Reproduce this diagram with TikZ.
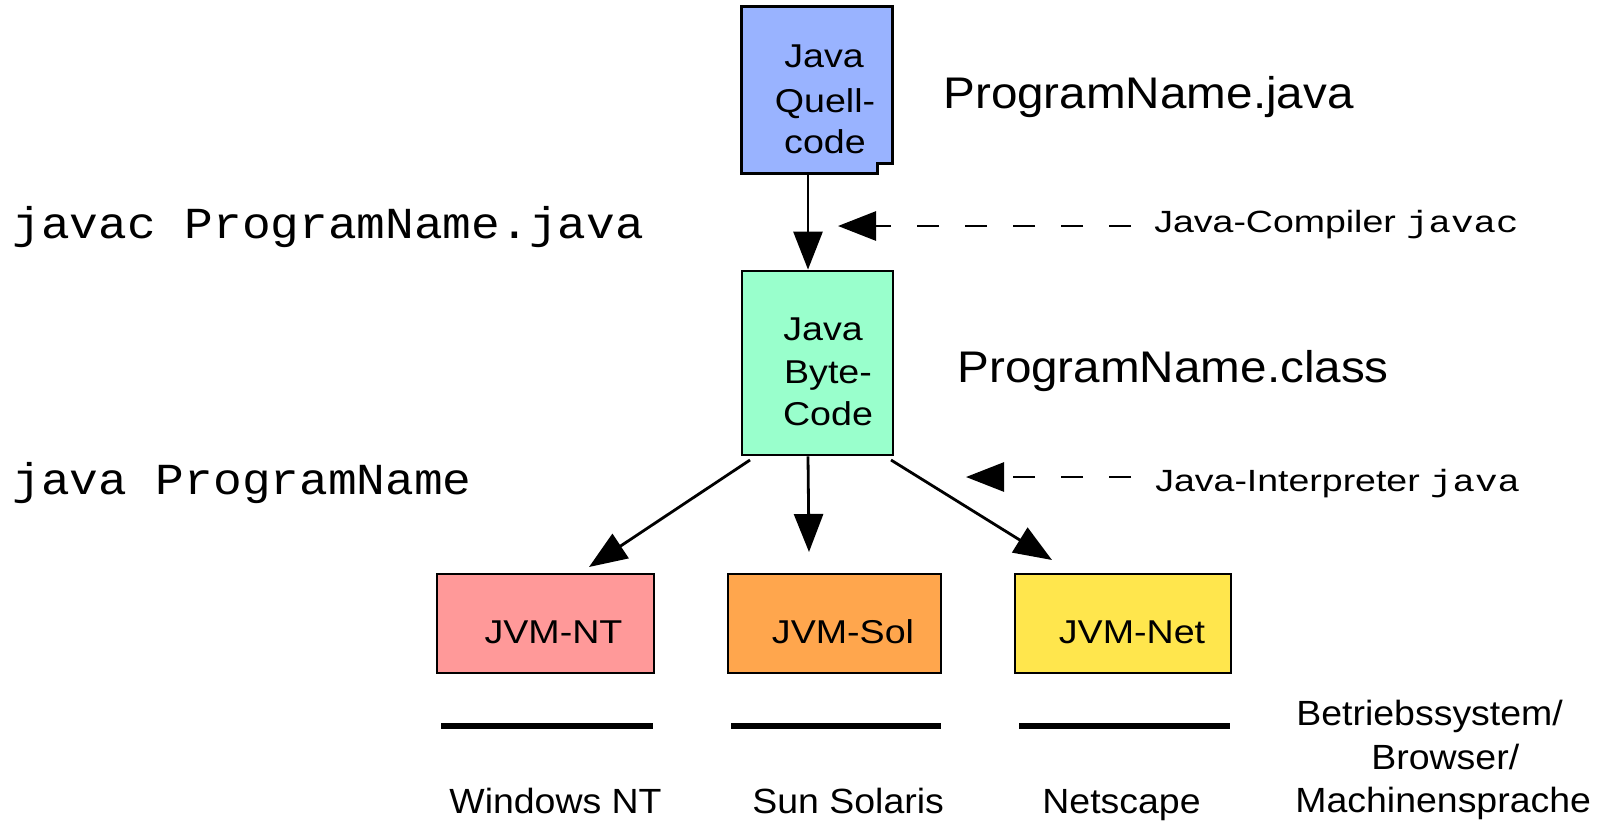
\documentclass[tikz,border=0pt]{standalone}
\usepackage{fontspec}
\setmainfont{Liberation Sans}
\newfontfamily\bigsansfam[FakeStretch=1.075]{Liberation Sans}
\newfontfamily\bigmonofam[FakeStretch=1.08]{Liberation Mono}
\newfontfamily\boxsansfam[FakeStretch=1.14]{Liberation Sans}
\newfontfamily\lblsansfam[FakeStretch=1.22]{Liberation Sans}
\newfontfamily\lblmonofam[FakeStretch=1.22]{Liberation Mono}
\newfontfamily\botsansfam[FakeStretch=1.07]{Liberation Sans}
\newcommand\fbigsans{\bigsansfam\fontsize{22.15pt}{26pt}\selectfont}
\newcommand\fbigmono{\bigmonofam\fontsize{22.15pt}{26pt}\selectfont}
\newcommand\fboxsans{\boxsansfam\fontsize{16.5pt}{20pt}\selectfont}
\newcommand\flblsans{\lblsansfam\fontsize{15.35pt}{18pt}\selectfont}
\newcommand\flblmono{\lblmonofam\fontsize{15.35pt}{18pt}\selectfont}
\newcommand\fbotsans{\botsansfam\fontsize{17.5pt}{21pt}\selectfont}
\usetikzlibrary{arrows.meta}
\definecolor{srcblue}{HTML}{99B3FF}
\definecolor{bcgreen}{HTML}{99FFCC}
\definecolor{ntred}{HTML}{FF9999}
\definecolor{solorange}{HTML}{FFA64D}
\definecolor{netyellow}{HTML}{FFE64D}
\begin{document}
\begin{tikzpicture}[x=0.5pt,y=-0.5pt,
  txt/.style={inner sep=0pt, anchor=base west},
  ctxt/.style={inner sep=0pt, anchor=base, font=\fboxsans},
  boxnode/.style={draw=black, line width=1.4pt, inner sep=0pt},
  arr/.style={line width=1.4pt, -{Triangle[length=19pt,width=14.5pt]}},
  darr/.style={arr, dash pattern=on 11pt off 13pt},
  bar/.style={line width=2.75pt}]
\useasboundingbox[fill=white] (0,0) rectangle (1605,820);

% source box (notched corner)
\node[minimum width=75pt, minimum height=83pt, inner sep=0pt] (src) at (817,90) {};
\draw[line width=1.4pt, fill=srcblue] (src.north west) -- (src.north east)
  -- ([yshift=5pt]src.south east) -- ([xshift=-7.5pt,yshift=5pt]src.south east)
  -- ([xshift=-7.5pt]src.south east) -- (src.south west) -- cycle;
\node[ctxt] (src1) at (824,67) {Java};
\node[ctxt] (src2) at (825,112) {Quell-};
\node[ctxt] (src3) at (825,153) {code};

% byte code box
\node[boxnode, fill=bcgreen, minimum width=75.5pt, minimum height=92pt] (bc) at (817.5,363) {};
\node[ctxt] (bc1) at (823,340) {Java};
\node[ctxt] (bc2) at (828,383) {Byte-};
\node[ctxt] (bc3) at (828,425) {Code};

% JVM boxes
\node[boxnode, fill=ntred, minimum width=108.5pt, minimum height=49.5pt] (nt) at (545.5,623.5) {};
\node[boxnode, fill=solorange, minimum width=106.5pt, minimum height=49.5pt] (sol) at (834.5,623.5) {};
\node[boxnode, fill=netyellow, minimum width=108pt, minimum height=49.5pt] (net) at (1123,623.5) {};
\node[ctxt] (ntt) at (553.5,643) {JVM-NT};
\node[ctxt] (solt) at (843,643) {JVM-Sol};
\node[ctxt] (nett) at (1132,643) {JVM-Net};

% file names
\node[txt, font=\fbigsans] (pj) at (943,108) {ProgramName.java};
\node[txt, font=\fbigsans] (pc) at (957,382) {ProgramName.class};

% commands
\node[txt, font=\fbigmono] (cmd1) at (12,238) {javac ProgramName.java};
\node[txt, font=\fbigmono] (cmd2) at (12,494) {java ProgramName};

% tool labels
\node[txt] (comp) at (1154,232) {\flblsans Java-Compiler \flblmono javac};
\node[txt] (interp) at (1155,491) {\flblsans Java-Interpreter \flblmono java};

% connectors
\draw[arr] ([xshift=-4.5pt]src.south) -- ([xshift=-4.75pt]bc.north);
\coordinate (tnt) at (589,567);
\coordinate (tsol) at (809,552);
\coordinate (tnet) at (1052,560);
\coordinate (snt) at (750,460);
\coordinate (snet) at (891,460);
\draw[arr] (snt) -- (tnt);
\draw[arr] ([xshift=-4.75pt]bc.south) -- (tsol);
\draw[arr] (snet) -- (tnet);

\coordinate (c1s) at (1131,226);
\coordinate (c1e) at (838,226);
\coordinate (c2s) at (1131,477);
\coordinate (c2e) at (966,477);
\draw[darr] (c1s) -- (c1e);
\draw[darr] (c2s) -- (c2e);

% platform bars
\coordinate (b1l) at (441,726); \coordinate (b1r) at (653,726);
\coordinate (b2l) at (731,726); \coordinate (b2r) at (941,726);
\coordinate (b3l) at (1019,726); \coordinate (b3r) at (1230,726);
\draw[bar] (b1l) -- (b1r);
\draw[bar] (b2l) -- (b2r);
\draw[bar] (b3l) -- (b3r);

% platform labels
\node[txt, font=\fbotsans] (win) at (449,813) {Windows NT};
\node[txt, font=\fbotsans] (sun) at (752,813) {Sun Solaris};
\node[txt, font=\fbotsans] (nsc) at (1042,813) {Netscape};
\node[txt, font=\fbotsans] (os1) at (1296,725) {Betriebssystem/};
\node[txt, font=\fbotsans] (os2) at (1371,769) {Browser/};
\node[txt, font=\fbotsans] (os3) at (1295,812) {Machinensprache};
\end{tikzpicture}
\end{document}
